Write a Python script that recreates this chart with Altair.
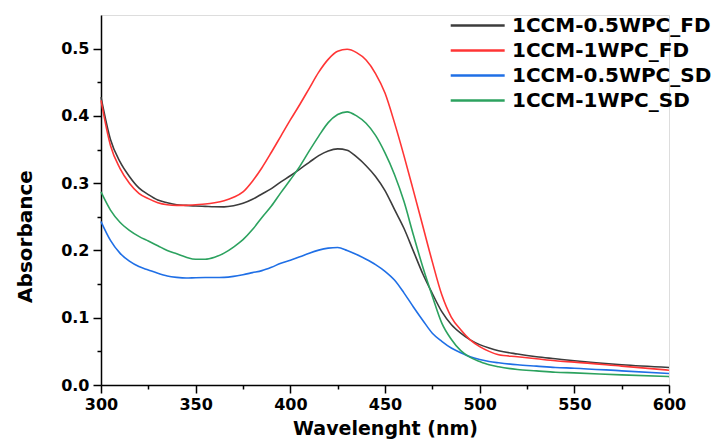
import altair as alt
import pandas as pd

wavelength = [300, 305, 310, 315, 320, 325, 330, 335, 340, 345, 350, 355, 360, 365, 370, 375,
              380, 385, 390, 395, 400, 405, 410, 415, 420, 425, 430, 435, 440, 445, 450, 455,
              460, 465, 470, 475, 480, 485, 490, 495, 500, 505, 510, 520, 530, 540, 550, 575, 600]

ccm05_fd = [0.428, 0.365, 0.332, 0.310, 0.293, 0.283, 0.275, 0.271, 0.268, 0.267, 0.266, 0.2655,
            0.265, 0.2648, 0.2665, 0.270, 0.276, 0.284, 0.292, 0.302, 0.311, 0.321, 0.331, 0.341,
            0.348, 0.351, 0.349, 0.339, 0.326, 0.310, 0.289, 0.261, 0.233, 0.199, 0.165, 0.136,
            0.109, 0.090, 0.077, 0.067, 0.060, 0.055, 0.051, 0.046, 0.042, 0.039, 0.036, 0.030, 0.026]
ccm1_fd = [0.423, 0.356, 0.322, 0.300, 0.285, 0.277, 0.271, 0.268, 0.267, 0.267, 0.268, 0.269,
           0.271, 0.274, 0.279, 0.287, 0.303, 0.323, 0.346, 0.370, 0.394, 0.417, 0.441, 0.465,
           0.484, 0.496, 0.499, 0.494, 0.483, 0.463, 0.434, 0.390, 0.341, 0.289, 0.236, 0.183,
           0.134, 0.101, 0.082, 0.067, 0.057, 0.050, 0.045, 0.042, 0.039, 0.036, 0.034, 0.028, 0.022]
ccm05_sd = [0.243, 0.215, 0.196, 0.184, 0.176, 0.171, 0.166, 0.162, 0.160, 0.159, 0.1595, 0.1597,
            0.1597, 0.160, 0.1615, 0.164, 0.167, 0.170, 0.175, 0.181, 0.1855, 0.1905, 0.196, 0.2005,
            0.2035, 0.2045, 0.200, 0.194, 0.187, 0.179, 0.169, 0.156, 0.137, 0.116, 0.096, 0.077,
            0.065, 0.055, 0.048, 0.042, 0.038, 0.035, 0.033, 0.030, 0.028, 0.026, 0.025, 0.021, 0.017]
ccm1_sd = [0.287, 0.260, 0.242, 0.230, 0.221, 0.214, 0.207, 0.200, 0.195, 0.190, 0.187, 0.187,
           0.190, 0.196, 0.205, 0.216, 0.231, 0.249, 0.266, 0.286, 0.305, 0.325, 0.348, 0.370,
           0.390, 0.402, 0.406, 0.400, 0.389, 0.371, 0.345, 0.313, 0.273, 0.223, 0.175, 0.132,
           0.092, 0.068, 0.051, 0.041, 0.035, 0.030, 0.027, 0.023, 0.021, 0.019, 0.018, 0.015, 0.0125]

series_names = ["1CCM-0.5WPC_FD", "1CCM-1WPC_FD", "1CCM-0.5WPC_SD", "1CCM-1WPC_SD"]
series_values = [ccm05_fd, ccm1_fd, ccm05_sd, ccm1_sd]
series_colors = ["#3c3c3c", "#ff3535", "#1f6fe6", "#2ca25f"]

x_major = [300, 350, 400, 450, 500, 550, 600]
x_minor = [325, 375, 425, 475, 525, 575]
y_major = [0.0, 0.1, 0.2, 0.3, 0.4, 0.5]
y_minor = [0.05, 0.15, 0.25, 0.35, 0.45]

rows = []
for name, vals in zip(series_names, series_values):
    for w, v in zip(wavelength, vals):
        rows.append({"Wavelength": w, "Absorbance": v, "Series": name})
df = pd.DataFrame(rows)

FONT = "DejaVu Sans"
xscale = alt.Scale(domain=[300, 600], nice=False, zero=False)
yscale = alt.Scale(domain=[0, 0.55], nice=False)

base = alt.Chart(df)

lines = base.mark_line(strokeWidth=1.6, interpolate="monotone").encode(
    x=alt.X("Wavelength:Q", scale=xscale,
            axis=alt.Axis(title="Wavelenght (nm)", values=x_major, orient="bottom",
                          grid=False, domainColor="black", domainWidth=1.5,
                          tickColor="black", tickWidth=1.5, tickSize=8,
                          labelFont=FONT, labelFontWeight="bold", labelFontSize=16,
                          labelColor="black", labelPadding=3, labelFlush=False,
                          titleFont=FONT, titleFontWeight="bold", titleFontSize=19,
                          titleColor="black", titlePadding=7)),
    y=alt.Y("Absorbance:Q", scale=yscale,
            axis=alt.Axis(title="Absorbance", values=y_major, format=".1f", orient="left",
                          grid=False, domainColor="black", domainWidth=1.5,
                          tickColor="black", tickWidth=1.5, tickSize=8,
                          labelFont=FONT, labelFontWeight="bold", labelFontSize=16,
                          labelColor="black", labelPadding=4, labelFlush=False,
                          titleFont=FONT, titleFontWeight="bold", titleFontSize=20,
                          titleColor="black", titlePadding=25, titleY=221)),
    color=alt.Color("Series:N",
                    scale=alt.Scale(domain=series_names, range=series_colors),
                    sort=series_names,
                    legend=alt.Legend(title=None, orient="none", legendX=348, legendY=-2,
                                      symbolType="M-1,0H4", symbolSize=466,
                                      symbolStrokeWidth=2.5,
                                      labelFont=FONT, labelFontWeight="bold",
                                      labelFontSize=20, labelColor="black",
                                      labelLimit=400, rowPadding=2, labelOffset=38)),
)

minor = base.mark_line(opacity=0).encode(
    x=alt.X("Wavelength:Q", scale=xscale,
            axis=alt.Axis(title=None, values=x_minor, orient="bottom", labels=False,
                          domain=False, grid=False, tickColor="black", tickWidth=1.5,
                          tickSize=4)),
    y=alt.Y("Absorbance:Q", scale=yscale,
            axis=alt.Axis(title=None, values=y_minor, orient="left", labels=False,
                          domain=False, grid=False, tickColor="black", tickWidth=1.5,
                          tickSize=4)),
    detail="Series:N",
)

chart = alt.layer(lines, minor).resolve_scale(
    x="independent", y="independent"
).properties(
    width=568, height=370,
    autosize=alt.AutoSizeParams(type="none"),
    padding={"left": 93, "top": 7, "right": 46, "bottom": 55},
).configure_view(stroke=None).configure(background="white")

chart.save("out.html", embed_options={"renderer": "svg", "actions": False})
